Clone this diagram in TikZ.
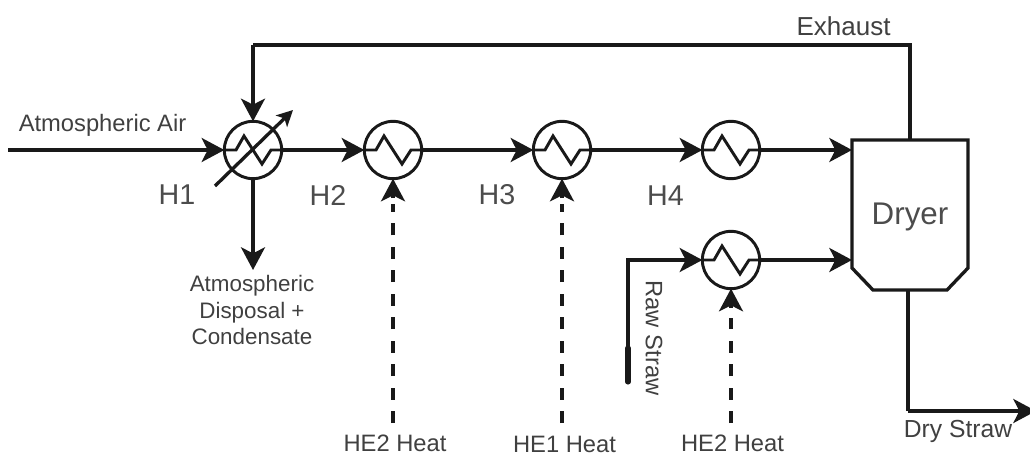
\documentclass[tikz,border=0pt]{standalone}
\usepackage{fontspec}
\setmainfont{Liberation Sans}
\usetikzlibrary{arrows.meta}
\tikzset{
  x=0.75pt,y=-0.75pt,
  line/.style={line width=2.5pt,draw=black!90},
  flow/.style={line,-{Stealth[length=17pt,width=18pt,inset=4.5pt]}},
  hx/.style={circle,draw=black!90,line width=2.2pt,minimum size=43pt,inner sep=0pt,outer sep=0pt},
  zig/.style={line width=2.2pt,draw=black!90,line join=miter},
  heat/.style={line,dash pattern=on 9pt off 8.6pt},
  heattip/.style={line,-{Stealth[length=17pt,width=18pt,inset=4.5pt]}},
  lab/.style={text=black!75,inner sep=0pt,font=\fontsize{17.8pt}{20pt}\selectfont,align=center},
  big/.style={text=black!70,inner sep=0pt,font=\fontsize{21.5pt}{25pt}\selectfont},
}
\newcommand{\zigzag}[1]{\draw[zig] ([xshift=-21pt]#1.center) -- ++(8.25pt,0) -- ++(6pt,10.5pt) -- ++(13.5pt,-21pt) -- ++(6.75pt,10.5pt) -- ([xshift=21pt]#1.center);}
\begin{document}
\begin{tikzpicture}
\useasboundingbox (0,0) rectangle (1030,456);
\node[hx] (h1) at (253,150) {};
\node[hx] (h2) at (393,150) {};
\node[hx] (h3) at (562,150) {};
\node[hx] (h4) at (731,150) {};
\node[hx] (h5) at (731,260) {};
\foreach \n in {h1,h2,h3,h4,h5} {\zigzag{\n}}
% dryer
\coordinate (dtop) at (910,140);
\coordinate (din1) at (852,150);
\coordinate (din2) at (852,260);
\coordinate (dbot) at (908,290);
\draw[line] (852,140) -- (968,140) -- (968,268) -- (947,290) -- (873,290) -- (852,268) -- cycle;
\node[big,font=\fontsize{23.5pt}{27pt}\selectfont] (dryer) at (910,216.5) {Dryer};
% free ends
\coordinate (air) at (8,150);
\coordinate (e1) at (910,45);
\coordinate (e2) at (253,45);
\coordinate (disp) at (253,270);
\coordinate (d1) at (908,411);
\coordinate (d2) at (1036,411);
\coordinate (rs) at (628,382);
\coordinate (rs2) at (628,348);
\coordinate (rc) at (628,260);
\coordinate (adj1) at (215,186);
\coordinate (adj2) at (293,110);
\coordinate (q2) at (393,423);
\coordinate (q3) at (562,423);
\coordinate (q5) at (731,423);
\coordinate (t2) at (393,204);
\coordinate (t3) at (562,204);
\coordinate (t5) at (731,318);
% connectors
\draw[flow] (air) -- (h1.west);
\draw[flow] (h1.east) -- (h2.west);
\draw[flow] (h2.east) -- (h3.west);
\draw[flow] (h3.east) -- (h4.west);
\draw[flow] (h4.east) -- (din1);
\draw[flow] (h5.east) -- (din2);
\draw[flow] (rs) -- (rc) -- (h5.west);
\draw[line,line width=3.8pt,line cap=round] (rs) -- (rs2);
\draw[line] (dtop) -- (e1) -- (e2);
\draw[flow] (e2) -- (h1.north);
\draw[flow] (h1.south) -- (disp);
\draw[line,-{Stealth[length=12pt,width=12pt,inset=3pt]}] (adj1) -- (adj2);
\draw[line] (dbot) -- (d1);
\draw[flow] (d1) -- (d2);
\draw[heat] (q2) -- (t2);
\draw[heat] (q3) -- (t3);
\draw[heat] (q5) -- (t5);
\draw[heattip] (393,198) -- (h2.south);
\draw[heattip] (562,198) -- (h3.south);
\draw[heattip] (731,308) -- (h5.south);
% labels
\node[lab] (lair) at (102.5,125) {Atmospheric Air};
\node[lab,font=\fontsize{19.5pt}{22pt}\selectfont] (lex) at (843.5,26) {Exhaust};
\node[big] (l1) at (177,195) {H1};
\node[big] (l2) at (328,195) {H2};
\node[big] (l3) at (497,195) {H3};
\node[big] (l4) at (665.5,196) {H4};
\node[lab,font=\fontsize{16.8pt}{20pt}\selectfont] (ld) at (252,310) {Atmospheric\\Disposal +\\Condensate};
\node[lab] (lq2) at (395,443.5) {HE2 Heat};
\node[lab] (lq3) at (564.5,444.5) {HE1 Heat};
\node[lab] (lq5) at (732.5,443.5) {HE2 Heat};
\node[lab,rotate=-90] (lrs) at (654,338) {Raw Straw};
\node[lab,font=\fontsize{18.5pt}{21pt}\selectfont] (lds) at (958,431) {Dry Straw};
\end{tikzpicture}
\end{document}
